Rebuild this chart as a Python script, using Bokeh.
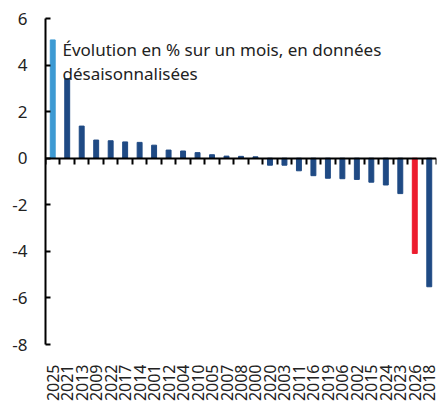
from math import pi
from bokeh.plotting import figure
from bokeh.models import (Range1d, LinearAxis, FixedTicker, Label, ColumnDataSource)
from bokeh.embed import file_html
from bokeh.resources import INLINE

years = ["2025", "2021", "2013", "2009", "2022", "2017", "2014", "2001", "2012",
         "2004", "2010", "2005", "2007", "2008", "2000", "2020", "2003", "2011",
         "2016", "2019", "2006", "2002", "2015", "2024", "2023", "2026", "2018"]
values = [5.08, 3.42, 1.38, 0.78, 0.75, 0.70, 0.68, 0.56, 0.35,
          0.31, 0.24, 0.15, 0.09, 0.08, 0.06, -0.30, -0.30, -0.54,
          -0.75, -0.86, -0.88, -0.91, -1.03, -1.15, -1.52, -4.09, -5.52]
highlight_first = "2025"
highlight_red = "2026"
y_ticks = [-8, -6, -4, -2, 0, 2, 4, 6]
note_line1 = "Évolution en % sur un mois, en données"
note_line2 = "désaisonnalisées"

DARK = "#1f4a84"
LIGHT = "#3d9ad3"
RED = "#ec1c2e"
colors = [LIGHT if y == highlight_first else RED if y == highlight_red else DARK
          for y in years]

FONT = "Noto Sans"
n = len(years)
centers = [i + 0.5 for i in range(n)]
boundaries = list(range(n + 1))

W, H = 440, 404
BT, BL, BR, BB = 18, 45, 4, 57

src = ColumnDataSource(dict(x=centers, year=years, value=values, color=colors))

p = figure(x_range=Range1d(0, n),
           y_range=Range1d(y_ticks[0], y_ticks[-1]),
           width=W, height=H,
           output_backend="svg", toolbar_location=None,
           x_axis_location=None, y_axis_location=None,
           min_border_top=BT, min_border_left=BL, min_border_right=BR,
           min_border_bottom=BB)
p.outline_line_color = None
p.xgrid.visible = False
p.ygrid.visible = False

p.vbar(x="x", top="value", width=0.34, color="color", source=src)

# y axis (ticks inside)
ya = LinearAxis(ticker=FixedTicker(ticks=y_ticks),
                major_label_overrides={t: str(t) for t in y_ticks},
                major_tick_in=5, major_tick_out=0,
                minor_tick_line_color=None,
                axis_line_width=2, axis_line_color="black",
                major_tick_line_width=2, major_tick_line_color="black",
                major_label_standoff=18,
                major_label_text_font=FONT, major_label_text_font_size="17px",
                major_label_text_color="#222222")
p.add_layout(ya, "left")

# category labels at the bottom
xa = LinearAxis(ticker=FixedTicker(ticks=centers),
                major_label_overrides={c: y for c, y in zip(centers, years)},
                axis_line_color=None, major_tick_line_color=None,
                minor_tick_line_color=None,
                major_label_orientation=pi / 2,
                major_label_standoff=14,
                major_label_text_font=FONT, major_label_text_font_size="16px",
                major_label_text_color="#222222")
p.add_layout(xa, "below")

# zero line with ticks at category boundaries
za = LinearAxis(ticker=FixedTicker(ticks=boundaries),
                fixed_location=0,
                major_tick_in=0, major_tick_out=6,
                minor_tick_line_color=None,
                axis_line_width=2, axis_line_color="black",
                major_tick_line_width=2, major_tick_line_color="black",
                major_label_text_alpha=0)
p.add_layout(za, "below")

p.add_layout(Label(x=1.17, y=4.68, text=note_line1,
                   text_font=FONT, text_font_size="17px", text_color="#222222",
                   text_baseline="alphabetic"))
p.add_layout(Label(x=1.17, y=3.62, text=note_line2,
                   text_font=FONT, text_font_size="17px", text_color="#222222",
                   text_baseline="alphabetic"))

open("out.html", "w").write(file_html(p, INLINE))
